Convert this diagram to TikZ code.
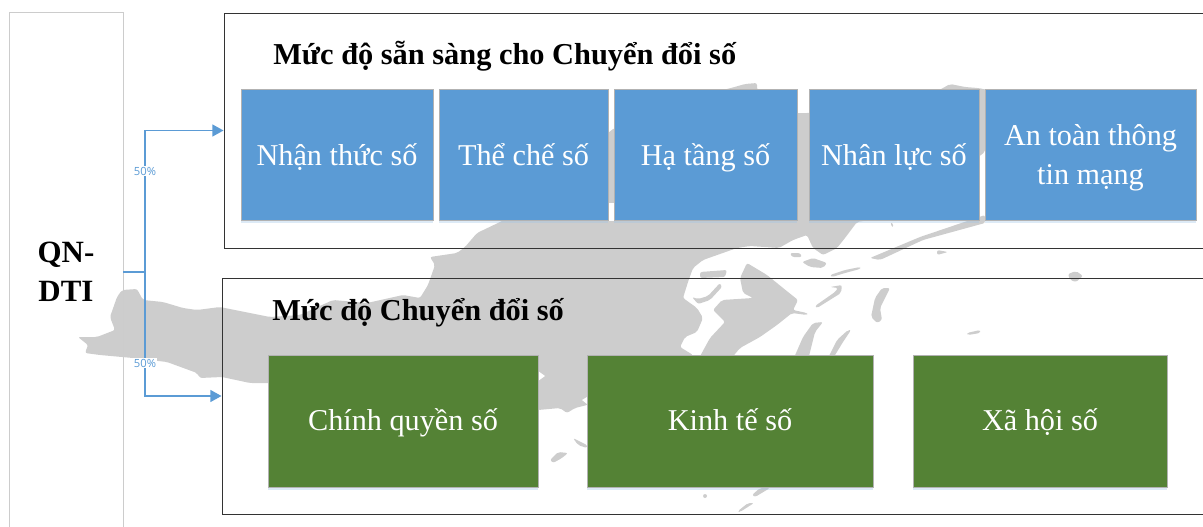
\documentclass[tikz,border=0pt]{standalone}
\usepackage{fontspec}
\setmainfont{Liberation Serif}
\newfontfamily\pctfont{Open Sans}
\usetikzlibrary{arrows.meta,shadows}
\definecolor{boxblue}{HTML}{5B9BD5}
\definecolor{boxgreen}{HTML}{548235}
\definecolor{mapgray}{HTML}{CDCDCD}
\tikzset{
  softshadow/.style={drop shadow={shadow xshift=0pt,shadow yshift=-2pt,fill=boxblue!60,opacity=0.35}},
  levelbox/.style={rectangle,draw=black!30,line width=0.5pt,text=white,align=center,inner sep=0pt,
    font=\fontsize{21.5}{27.7}\selectfont,softshadow},
  framebox/.style={rectangle,draw=black!80,line width=0.7pt,inner sep=0pt},
  maparea/.style={fill=mapgray,draw=none,rounded corners=1.5pt},
  flowline/.style={draw=boxblue,line width=1.1pt},
  pctlabel/.style={fill=white,text=boxblue,inner sep=0.6pt,font=\pctfont\fontsize{8}{9}\selectfont},
  headlabel/.style={anchor=base west,inner sep=0pt,font=\bfseries\fontsize{21.6}{26}\selectfont},
}
\begin{document}
\begin{tikzpicture}[x=0.025cm,y=-0.025cm,>={Triangle[length=2.8mm,width=3mm]}]
    \useasboundingbox (0,0) rectangle (1203,526);

    % Map behind everything
    \fill[maparea] (78,337) -- (97,337) -- (115,330) -- (110,317) -- (117,297) -- (122,290) -- (137,289)
      -- (143,300) -- (163,302) -- (183,308) -- (197,310) -- (220,307) -- (250,313) -- (270,317)
      -- (300,315) -- (333,300) -- (367,303) -- (403,295) -- (420,298) -- (428,285) -- (435,265)
      -- (430,257) -- (457,253) -- (465,247) -- (477,233) -- (500,222) -- (560,190) -- (611,130)
      -- (680,100) -- (731,88) -- (745,84) -- (757,83) -- (757,90) -- (790,113) -- (809,113)
      -- (930,95) -- (943,88) -- (950,84) -- (965,87) -- (978,88) -- (988,90) -- (985,152)
      -- (900,215) -- (857,222) -- (845,238) -- (837,248) -- (823,255) -- (813,248) -- (807,235)
      -- (793,240) -- (779,248) -- (750,246) -- (737,248) -- (703,260) -- (693,268) -- (688,282)
      -- (683,298) -- (697,308) -- (703,318) -- (697,332) -- (685,337) -- (680,347) -- (693,355)
      -- (693,370) -- (587,405) -- (575,408) -- (567,413) -- (560,408) -- (538,410) -- (500,400)
      -- (267,383) -- (250,383) -- (222,377) -- (200,378) -- (197,373) -- (167,362) -- (133,358)
      -- (100,355) -- (85,353) -- (88,345) -- cycle;
    % Inner lobe and islands
    \fill[maparea] (747,263) -- (767,275) -- (788,292) -- (798,300) -- (793,310) -- (807,313) -- (807,315)
      -- (792,313) -- (777,325) -- (760,337) -- (740,348) -- (730,360) -- (698,360) -- (710,338)
      -- (725,322) -- (713,310) -- (722,300) -- (753,298) -- (743,293) -- (740,278) -- cycle;
    \foreach \isle in {
      {(802,262) -- (813,258) -- (827,263) -- (823,268) -- (810,267)},
      {(790,253) -- (800,253) -- (802,257) -- (792,257)},
      {(830,275) -- (845,270) -- (860,267) -- (860,269) -- (845,273) -- (832,277)},
      {(830,287) -- (842,285) -- (841,293) -- (817,308) -- (815,306) -- (835,292) -- (838,288)},
      {(882,288) -- (890,288) -- (880,308) -- (882,320) -- (877,323) -- (871,317) -- (875,298)},
      {(813,323) -- (823,322) -- (815,332) -- (808,360) -- (793,360) -- (803,337)},
      {(851,330) -- (843,342) -- (832,360) -- (827,360) -- (837,340) -- (848,330)},
      {(985,223) -- (923,240) -- (880,260) -- (870,258) -- (920,237) -- (985,215)},
      {(937,250) -- (948,252) -- (937,255)},
      {(890,223) -- (893,223) -- (893,228)},
      {(1068,274) -- (1076,271) -- (1083,276) -- (1076,282) -- (1070,280)},
      {(967,333) -- (980,330) -- (980,333) -- (968,335)},
      {(700,272) -- (727,270) -- (725,277) -- (700,278)},
      {(720,283) -- (722,287) -- (710,300) -- (698,304) -- (692,297) -- (698,299) -- (708,296)},
      {(550,460) -- (558,452) -- (568,453) -- (562,458) -- (553,463)},
      {(573,438) -- (587,445) -- (587,448) -- (578,445)},
      {(703,494) -- (707,494) -- (707,498) -- (703,498)},
      {(770,488) -- (755,497) -- (752,495) -- (760,488)},
      {(754,503) -- (740,512) -- (738,511) -- (748,503)}
    }{
        \fill[maparea] \isle -- cycle;
    }
    % Bays cut out of the land
    \fill[white] (606,203) rectangle (616,221);
    \fill[white] (538,371) -- (545,376) -- (538,381) -- cycle;
    \fill[white] (587,397) -- (582,400) -- (587,404) -- cycle;

    % Outer frames
    \node[framebox,minimum width=985*0.025cm,minimum height=235*0.025cm] (readyframe) at (716.5,130.5) {};
    \node[framebox,minimum width=987*0.025cm,minimum height=236*0.025cm] (levelframe) at (715.5,396) {};
    \node[headlabel] (readyhead) at (273,64) {Mức độ sẵn sàng cho Chuyển đổi số};
    \node[headlabel] (levelhead) at (272,320) {Mức độ Chuyển đổi số};

    % Left column
    \node[rectangle,draw=black!20,line width=0.7pt,minimum width=114*0.025cm,minimum height=520*0.025cm,
      align=center,font=\bfseries\fontsize{22}{27.7}\selectfont] (qndti) at (66,272) {QN-\\DTI};

    % Blue boxes
    \foreach \nm/\xa/\xb/\txt in {nhanthuc/241/433/Nhận thức số,theche/439/608/Thể chế số,
      hatang/614/797/Hạ tầng số,nhanluc/809/979/Nhân lực số,antoan/985/1196/{An toàn thông\\tin mạng}}{
        \node[levelbox,fill=boxblue,minimum width={(\xb-\xa)*0.025cm},minimum height=131*0.025cm]
          (\nm) at ({(\xa+\xb)/2},154.5) {\rule{0pt}{20pt}\txt\rule[-5pt]{0pt}{5pt}};
    }
    % Green boxes
    \foreach \nm/\xa/\xb/\txt in {chinhquyen/268/538/Chính quyền số,kinhte/587/873/Kinh tế số,xahoi/913/1167/Xã hội số}{
        \node[levelbox,fill=boxgreen,minimum width={(\xb-\xa)*0.025cm},minimum height=132*0.025cm]
          (\nm) at ({(\xa+\xb)/2},421) {\rule{0pt}{19pt}\txt\rule[-6pt]{0pt}{6pt}};
    }

    % Split into the two frames
    \coordinate (split) at (145,272);
    \draw[flowline] (qndti.east |- split) -- (split);
    \draw[flowline,->] (split) |- (readyframe.west);
    \draw[flowline,->] (split) |- (levelframe.west);
    \node[pctlabel] (pcttop) at (145,171) {50\%};
    \node[pctlabel] (pctbottom) at (145,363) {50\%};
\end{tikzpicture}
\end{document}
